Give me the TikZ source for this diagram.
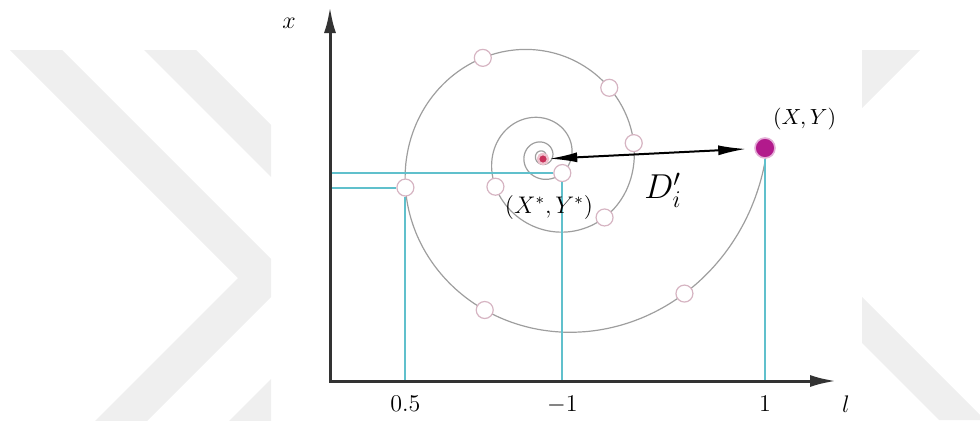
\documentclass[tikz,border=0pt]{standalone}
\usepackage{amsmath}
\usetikzlibrary{arrows.meta,positioning,calc}
\definecolor{guidecyan}{RGB}{96,192,204}
\definecolor{dotmag}{RGB}{178,26,140}
\definecolor{dotred}{RGB}{200,50,90}
\definecolor{ringpink}{RGB}{214,180,194}
\definecolor{wmgray}{RGB}{239,239,239}
\begin{document}
\begin{tikzpicture}[x=0.5pt,y=-0.5pt,font=\fontsize{11.5}{13}\selectfont,
  declare function={sprad(\t)=224*exp(0.0028*\t)*(1+0.22*exp(-min(((\t+410)/70)*((\t+410)/70),20)));},
  ax/.style={draw=black!80,line width=1.5pt,{Latex[length=13pt,width=6pt]}-{Latex[length=13pt,width=6pt]}},
  guide/.style={draw=guidecyan,line width=1pt},
  spir/.style={draw=black!38,line width=0.6pt},
  ring/.style={circle,draw=ringpink,line width=0.6pt,fill=white,minimum size=8.5pt,inner sep=0pt},
  dot/.style={circle,inner sep=0pt},
  dist/.style={draw=black,line width=1pt,{Latex[length=14pt,width=5pt]}-{Latex[length=14pt,width=5pt]}},
  lab/.style={inner sep=1pt}]
\useasboundingbox (0,0) rectangle (980,423);
% faint chevrons in the background
\begin{scope}
  \clip (0,50) rectangle (271,420);
  \foreach \dx in {0,134}
    \fill[wmgray,shift={(\dx,0)}] (10,50) -- (62,50) -- (290,278) -- (145,423) -- (93,423) -- (238,278) -- cycle;
\end{scope}
\fill[wmgray] (862,50) -- (920,50) -- (862,108) -- cycle;
\fill[wmgray] (862,297) -- (980,415) -- (980,420) -- (939,420) -- (862,343) -- cycle;
\coordinate (O) at (330,381);
\coordinate (xtip) at (836,381);
\coordinate (ytip) at (330,7);
% spiral towards the optimum
\draw[spir] plot[domain=-1800:0,samples=500,smooth,variable=\t] ({542+sprad(\t)*cos(\t)},{156-sprad(\t)*sin(\t)});
\foreach \t [count=\i] in {-760,-506.6,-404.5,-352,-314.6,-238.9,-167,-110.4,-44}
  \node[ring] (c\i) at ({542+sprad(\t)*cos(\t)},{156-sprad(\t)*sin(\t)}) {};
\node[dot,fill=dotmag,draw=dotmag!35,line width=0.8pt,minimum size=10pt] (xy) at (765,148) {};
\node[dot,fill=dotred,draw=dotred!30,line width=1.2pt,minimum size=5pt] (ctr) at (543,159) {};
% projections onto the axes
\draw[guide] (c7) -- (c7 |- O);
\draw[guide] (c7) -- (c7 -| O);
\draw[guide] (c1) -- (c1 |- O);
\draw[guide] (c1) -- (c1 -| O);
\draw[guide] (xy) -- (xy |- O);
\draw[ax] (ytip) -- (O) -- (xtip);
\draw[dist,shorten >=4pt] (ctr) -- (xy);
\node[lab,font=\fontsize{12.5}{14}\selectfont] (xl) at (289,23) {$x$};
\node[lab,font=\fontsize{12.5}{14}\selectfont] (ll) at (846,404) {$l$};
\node[lab,below=6.5pt] (t1) at (c7 |- O) {$0.5$};
\node[lab,below=6.5pt] (t2) at (c1 |- O) {$-1$};
\node[lab,below=6.5pt] (t3) at (xy |- O) {$1$};
\node[lab,above right=4pt and -1pt of xy,font=\fontsize{10.5}{12}\selectfont] (xyl) {$(X,Y)$};
\node[lab,below=14pt of ctr,xshift=3pt] (ctrl) {$(X^{*},Y^{*})$};
\node[lab,font=\fontsize{17}{20}\selectfont] (dl) at (663,190) {$D_i^{\prime}$};
\end{tikzpicture}
\end{document}
